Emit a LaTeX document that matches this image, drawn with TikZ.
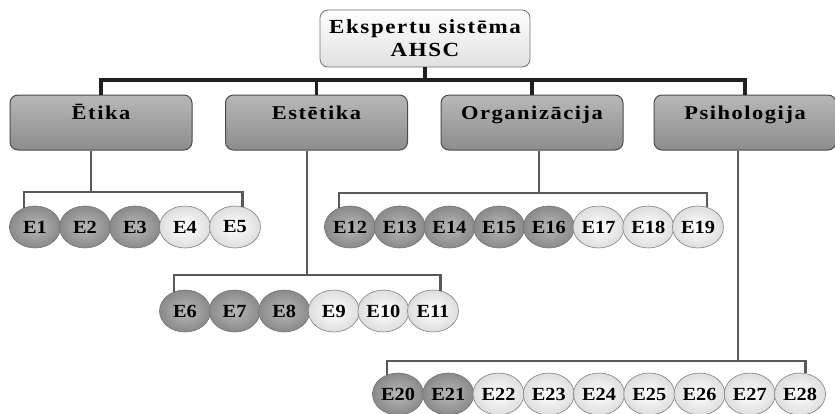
\documentclass[tikz,border=0pt]{standalone}
\usepackage{fontspec}
\setmainfont{Liberation Serif}
\newfontfamily\catfont{Liberation Serif}[FakeStretch=1.15,LetterSpace=8]
\newfontfamily\elfont{Liberation Serif}[FakeStretch=1.1]
\usetikzlibrary{shapes.geometric,calc}
\begin{document}
\begin{tikzpicture}[x=1pt,y=-1pt,
  topbox/.style={draw=black!55, line width=0.8pt, rounded corners=8pt, top color=white, bottom color=black!12,
    minimum width=210pt, minimum height=57pt, align=center, inner sep=0pt,
    font=\catfont\bfseries\fontsize{20}{23}\selectfont},
  catbox/.style={draw=black!70, line width=1pt, rounded corners=8pt, top color=black!28, bottom color=black!45,
    minimum width=182pt, inner xsep=0pt, inner ysep=10pt, text height=14pt, text depth=21pt,
    font=\catfont\bfseries\fontsize{19.5}{21}\selectfont},
  darkel/.style={ellipse, draw=black!55, line width=0.6pt, inner color=black!28, outer color=black!46,
    minimum width=51pt, minimum height=42pt, inner sep=0pt,
    font=\elfont\bfseries\fontsize{18.5}{18.5}\selectfont},
  lightel/.style={darkel, draw=black!50, inner color=white, outer color=black!13},
  mainline/.style={line width=3.5pt, draw=black!88},
  subline/.style={line width=2.5pt, draw=black!65},
]
\useasboundingbox (0,0) rectangle (835,413);

\node[topbox] (root) at (425,38.5) {Ekspertu sistēma\\AHSC};

\node[catbox] (etika) at (101,122.5) {Ētika};
\node[catbox] (est) at (316.5,122.5) {Estētika};
\node[catbox] (org) at (532,122.5) {Organizācija};
\node[catbox] (psih) at (745,122.5) {Psihologija};

\coordinate (tb) at (0,80);
\draw[mainline] (root.south) -- (root.south |- tb);
\draw[mainline] (etika.north) -- (etika.north |- tb) -- (psih.north |- tb) -- (psih.north);
\draw[mainline] (est.north) -- (est.north |- tb);
\draw[mainline] (org.north) -- (org.north |- tb);

% row 1
\foreach \n/\s in {1/darkel,2/darkel,3/darkel,4/lightel,5/lightel}{
  \pgfmathsetmacro\xx{35+50*(\n-1)}
  \node[\s] (E\n) at (\xx,227) {E\n};
}
% row 2
\foreach \n/\s in {6/darkel,7/darkel,8/darkel,9/lightel,10/lightel,11/lightel}{
  \pgfmathsetmacro\xx{185+49.6*(\n-6)}
  \node[\s] (E\n) at (\xx,311) {E\n};
}
% row 3
\foreach \n/\s in {12/darkel,13/darkel,14/darkel,15/darkel,16/darkel,17/lightel,18/lightel,19/lightel}{
  \pgfmathsetmacro\xx{350+49.71*(\n-12)}
  \node[\s] (E\n) at (\xx,227) {E\n};
}
% row 4
\foreach \n/\s in {20/darkel,21/darkel,22/lightel,23/lightel,24/lightel,25/lightel,26/lightel,27/lightel,28/lightel}{
  \pgfmathsetmacro\xx{398+50.25*(\n-20)}
  \node[\s] (E\n) at (\xx,394) {E\n};
}

\coordinate (b1) at (91,192);
\coordinate (b2) at (307,275);
\coordinate (b3) at (539,193);
\coordinate (b4) at (738,361);

\draw[subline] (etika.south -| b1) -- (b1);
\draw[subline] (E1.120) -- (E1.120 |- b1) -- (E5.70 |- b1) -- (E5.70);
\draw[subline] (est.south -| b2) -- (b2);
\draw[subline] (E6.120) -- (E6.120 |- b2) -- (E11.70 |- b2) -- (E11.70);
\draw[subline] (org.south -| b3) -- (b3);
\draw[subline] (E12.120) -- (E12.120 |- b3) -- (E19.65 |- b3) -- (E19.65);
\draw[subline] (psih.south -| b4) -- (b4);
\draw[subline] (E20.120) -- (E20.120 |- b4) -- (E28.75 |- b4) -- (E28.75);
\end{tikzpicture}
\end{document}
